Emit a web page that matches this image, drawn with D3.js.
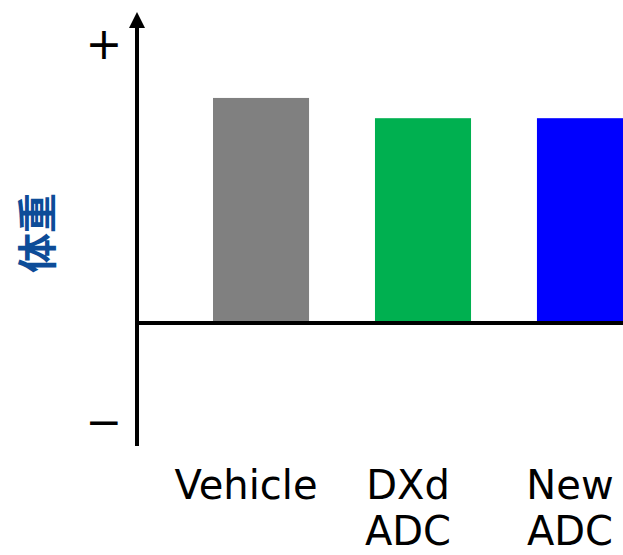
<!DOCTYPE html>
<html>
<head>
<meta charset="utf-8">
<script src="https://cdn.jsdelivr.net/npm/d3@7"></script>
<style>
  html, body { margin: 0; padding: 0; background: #fff; }
  svg { display: block; }
</style>
</head>
<body>
<svg id="chart" width="623" height="555"></svg>
<script>
// Body weight relative to baseline, arbitrary units
const categories = ["Vehicle", "DXd ADC", "New ADC"];
const labelLines = [["Vehicle"], ["DXd", "ADC"], ["New", "ADC"]];
const values = [100, 91, 91];
const colors = ["#808080", "#00b050", "#0000ff"];
const tickValues = [124, -44];
const tickLabels = ["+", "\u2212"];
const yTitle = "体重";

const svg = d3.select("#chart");

const y = d3.scaleLinear().domain([-54.7, 138.2]).range([446, 12]);
const x = d3.scaleBand()
  .domain(categories)
  .range([213, 633])
  .paddingInner(0.407)
  .paddingOuter(0);

const axisX = 137;

// bars
svg.selectAll("rect.bar")
  .data(categories)
  .join("rect")
  .attr("class", "bar")
  .attr("x", d => x(d))
  .attr("width", x.bandwidth())
  .attr("y", (d, i) => y(values[i]))
  .attr("height", (d, i) => y(0) - y(values[i]))
  .attr("fill", (d, i) => colors[i]);

// zero baseline
svg.append("line")
  .attr("x1", axisX).attr("x2", 623)
  .attr("y1", y(0)).attr("y2", y(0))
  .attr("stroke", "#000").attr("stroke-width", 4);

// vertical axis with arrow head
const [yBottom, yTop] = y.range();
svg.append("line")
  .attr("x1", axisX).attr("x2", axisX)
  .attr("y1", yBottom).attr("y2", yTop + 14)
  .attr("stroke", "#000").attr("stroke-width", 4);
svg.append("path")
  .attr("d", d3.line()([[axisX, yTop], [axisX - 8, yTop + 16], [axisX + 8, yTop + 16]]) + "Z")
  .attr("fill", "#000");

// + / − markers
svg.selectAll("text.tick")
  .data(tickValues)
  .join("text")
  .attr("class", "tick")
  .attr("x", 104)
  .attr("y", d => y(d))
  .attr("dy", "0.35em")
  .attr("text-anchor", "middle")
  .attr("font-family", "DejaVu Sans, sans-serif")
  .attr("font-size", 44)
  .attr("fill", "#000")
  .text((d, i) => tickLabels[i]);

// y title
svg.append("text")
  .attr("transform", `translate(38,233) rotate(-90)`)
  .attr("text-anchor", "middle")
  .attr("dy", "0.36em")
  .attr("font-family", "Noto Sans CJK JP, sans-serif")
  .attr("font-weight", "bold")
  .attr("font-size", 40)
  .attr("fill", "#0d4c98")
  .text(yTitle);

// category labels
const lab = svg.selectAll("text.cat")
  .data(categories)
  .join("text")
  .attr("class", "cat")
  .attr("text-anchor", "middle")
  .attr("font-family", "DejaVu Sans, sans-serif")
  .attr("font-size", 40)
  .attr("fill", "#000");
lab.selectAll("tspan")
  .data((d, i) => labelLines[i].map(t => ({ t, c: d })))
  .join("tspan")
  .attr("x", d => x(d.c) + x.bandwidth() / 2 - 15)
  .attr("y", (d, j) => 499 + j * 46)
  .text(d => d.t);
</script>
</body>
</html>
